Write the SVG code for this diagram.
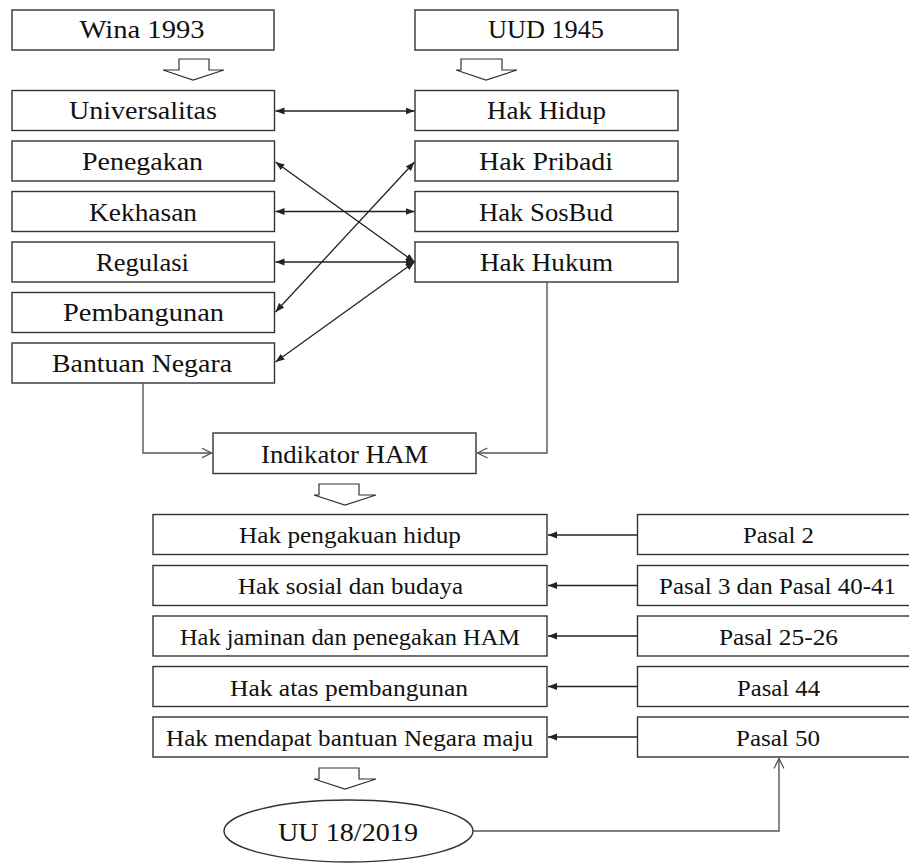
<svg xmlns="http://www.w3.org/2000/svg" width="909" height="863" viewBox="0 0 909 863">
<style>
.box{fill:#fff;stroke:#333;stroke-width:1.4}
.blk{fill:#fff;stroke:#333;stroke-width:1.2}
.t{font-family:"Liberation Serif","DejaVu Serif",serif;font-size:25px;fill:#111;text-anchor:middle}
.s{font-size:23.5px}
.c{fill:none;stroke:#222;stroke-width:1.3}
.g{fill:none;stroke:#555;stroke-width:1.4}
</style>
<defs>
<marker id="ah" markerUnits="userSpaceOnUse" markerWidth="10" markerHeight="8" refX="9" refY="4" orient="auto-start-reverse"><path d="M0,0.5 L9,4 L0,7.5 z" fill="#222"/></marker>
<marker id="oh" markerUnits="userSpaceOnUse" markerWidth="12" markerHeight="12" refX="10.5" refY="6" orient="auto"><path d="M0,1 L10,6 L0,11" fill="none" stroke="#555" stroke-width="1.3"/></marker>
</defs>
<rect width="909" height="863" fill="#fff"/>

<g id="wina"><rect class="box" x="12" y="10" width="262" height="40"/><text class="t" x="142" y="38" textLength="125" lengthAdjust="spacingAndGlyphs">Wina 1993</text></g>
<g id="uud"><rect class="box" x="415" y="10" width="263" height="40"/><text class="t" x="546" y="38" textLength="116" lengthAdjust="spacingAndGlyphs">UUD 1945</text></g>

<g id="blk1"><polygon class="blk" points="179,59 209,59 209,70 224,70 193,80 163,70 179,70"/></g>
<g id="blk2"><polygon class="blk" points="461,59 502,59 502,70 517,70 486,80 456,70 461,70"/></g>

<g id="universalitas"><rect class="box" x="12" y="90.5" width="262.5" height="40"/><text class="t" x="143" y="119" textLength="148" lengthAdjust="spacingAndGlyphs">Universalitas</text></g>
<g id="penegakan"><rect class="box" x="12" y="141" width="262.5" height="40"/><text class="t" x="142.5" y="170" textLength="121" lengthAdjust="spacingAndGlyphs">Penegakan</text></g>
<g id="kekhasan"><rect class="box" x="12" y="191.5" width="262.5" height="40"/><text class="t" x="143" y="220.5" textLength="108" lengthAdjust="spacingAndGlyphs">Kekhasan</text></g>
<g id="regulasi"><rect class="box" x="12" y="242" width="262.5" height="40"/><text class="t" x="142.5" y="271" textLength="93" lengthAdjust="spacingAndGlyphs">Regulasi</text></g>
<g id="pembangunan"><rect class="box" x="12" y="292.5" width="262.5" height="40"/><text class="t" x="143.5" y="321" textLength="161" lengthAdjust="spacingAndGlyphs">Pembangunan</text></g>
<g id="bantuan"><rect class="box" x="12" y="343" width="262.5" height="40"/><text class="t" x="142" y="372" textLength="180" lengthAdjust="spacingAndGlyphs">Bantuan Negara</text></g>

<g id="hakhidup"><rect class="box" x="415" y="90.5" width="263" height="40"/><text class="t" x="546.5" y="119" textLength="119" lengthAdjust="spacingAndGlyphs">Hak Hidup</text></g>
<g id="hakpribadi"><rect class="box" x="415" y="141" width="263" height="40"/><text class="t" x="546" y="170" textLength="134" lengthAdjust="spacingAndGlyphs">Hak Pribadi</text></g>
<g id="haksosbud"><rect class="box" x="415" y="191.5" width="263" height="40"/><text class="t" x="546" y="220.5" textLength="134" lengthAdjust="spacingAndGlyphs">Hak SosBud</text></g>
<g id="hakhukum"><rect class="box" x="415" y="242" width="263" height="40"/><text class="t" x="546.5" y="271" textLength="133" lengthAdjust="spacingAndGlyphs">Hak Hukum</text></g>

<g id="indikator"><rect class="box" x="213" y="433" width="263" height="40.5"/><text class="t" x="344.5" y="463" textLength="167" lengthAdjust="spacingAndGlyphs">Indikator HAM</text></g>
<g id="blk3"><polygon class="blk" points="319,484 359,484 359,495 376,495 345,505 314,495 319,495"/></g>

<g id="hak1"><rect class="box" x="153" y="514.5" width="394" height="40"/><text class="t s" x="350" y="543" textLength="222" lengthAdjust="spacingAndGlyphs">Hak pengakuan hidup</text></g>
<g id="hak2"><rect class="box" x="153" y="565.5" width="394" height="40"/><text class="t s" x="350.5" y="594" textLength="225" lengthAdjust="spacingAndGlyphs">Hak sosial dan budaya</text></g>
<g id="hak3"><rect class="box" x="153" y="616" width="394" height="40"/><text class="t s" x="350" y="645" textLength="340" lengthAdjust="spacingAndGlyphs">Hak jaminan dan penegakan HAM</text></g>
<g id="hak4"><rect class="box" x="153" y="666.5" width="394" height="40"/><text class="t s" x="349" y="695.5" textLength="238" lengthAdjust="spacingAndGlyphs">Hak atas pembangunan</text></g>
<g id="hak5"><rect class="box" x="153" y="717" width="394" height="40"/><text class="t s" x="349.5" y="746" textLength="367" lengthAdjust="spacingAndGlyphs">Hak mendapat bantuan Negara maju</text></g>

<g id="pasal2"><rect class="box" x="637.5" y="514.5" width="290" height="40"/><text class="t s" x="778.5" y="543" textLength="71" lengthAdjust="spacingAndGlyphs">Pasal 2</text></g>
<g id="pasal3"><rect class="box" x="637.5" y="565.5" width="290" height="40"/><text class="t s" x="777.5" y="594" textLength="237" lengthAdjust="spacingAndGlyphs">Pasal 3 dan Pasal 40-41</text></g>
<g id="pasal25"><rect class="box" x="637.5" y="616" width="290" height="40"/><text class="t s" x="778.5" y="645" textLength="119" lengthAdjust="spacingAndGlyphs">Pasal 25-26</text></g>
<g id="pasal44"><rect class="box" x="637.5" y="666.5" width="290" height="40"/><text class="t s" x="778.5" y="695.5" textLength="83" lengthAdjust="spacingAndGlyphs">Pasal 44</text></g>
<g id="pasal50"><rect class="box" x="637.5" y="717" width="290" height="40"/><text class="t s" x="778" y="746" textLength="84" lengthAdjust="spacingAndGlyphs">Pasal 50</text></g>

<g id="blk4"><polygon class="blk" points="319,768 359,768 359,779 376,779 345,789 314,779 319,779"/></g>
<g id="uu"><ellipse class="box" cx="348.5" cy="831" rx="124.5" ry="31"/><text class="t" x="348" y="841" textLength="140" lengthAdjust="spacingAndGlyphs">UU 18/2019</text></g>

<g id="connectors">
<line class="c" x1="275.5" y1="111" x2="414.5" y2="111" marker-start="url(#ah)" marker-end="url(#ah)"/>
<line class="c" x1="275.5" y1="162" x2="414.5" y2="262" marker-start="url(#ah)" marker-end="url(#ah)"/>
<line class="c" x1="275.5" y1="211.5" x2="414.5" y2="211.5" marker-start="url(#ah)" marker-end="url(#ah)"/>
<line class="c" x1="275.5" y1="262" x2="414.5" y2="262" marker-start="url(#ah)" marker-end="url(#ah)"/>
<line class="c" x1="275.5" y1="312" x2="414.5" y2="162" marker-start="url(#ah)" marker-end="url(#ah)"/>
<line class="c" x1="275.5" y1="362" x2="414.5" y2="262" marker-start="url(#ah)" marker-end="url(#ah)"/>
<polyline class="g" points="143,383 143,453 212,453" marker-end="url(#oh)"/>
<polyline class="g" points="547,282 547,453 477,453" marker-end="url(#oh)"/>
<line class="c" x1="637" y1="535" x2="548" y2="535" marker-end="url(#ah)"/>
<line class="c" x1="637" y1="585.5" x2="548" y2="585.5" marker-end="url(#ah)"/>
<line class="c" x1="637" y1="636" x2="548" y2="636" marker-end="url(#ah)"/>
<line class="c" x1="637" y1="686.5" x2="548" y2="686.5" marker-end="url(#ah)"/>
<line class="c" x1="637" y1="737" x2="548" y2="737" marker-end="url(#ah)"/>
<polyline class="g" points="473,831 779,831 779,758" marker-end="url(#oh)"/>
</g>
</svg>
